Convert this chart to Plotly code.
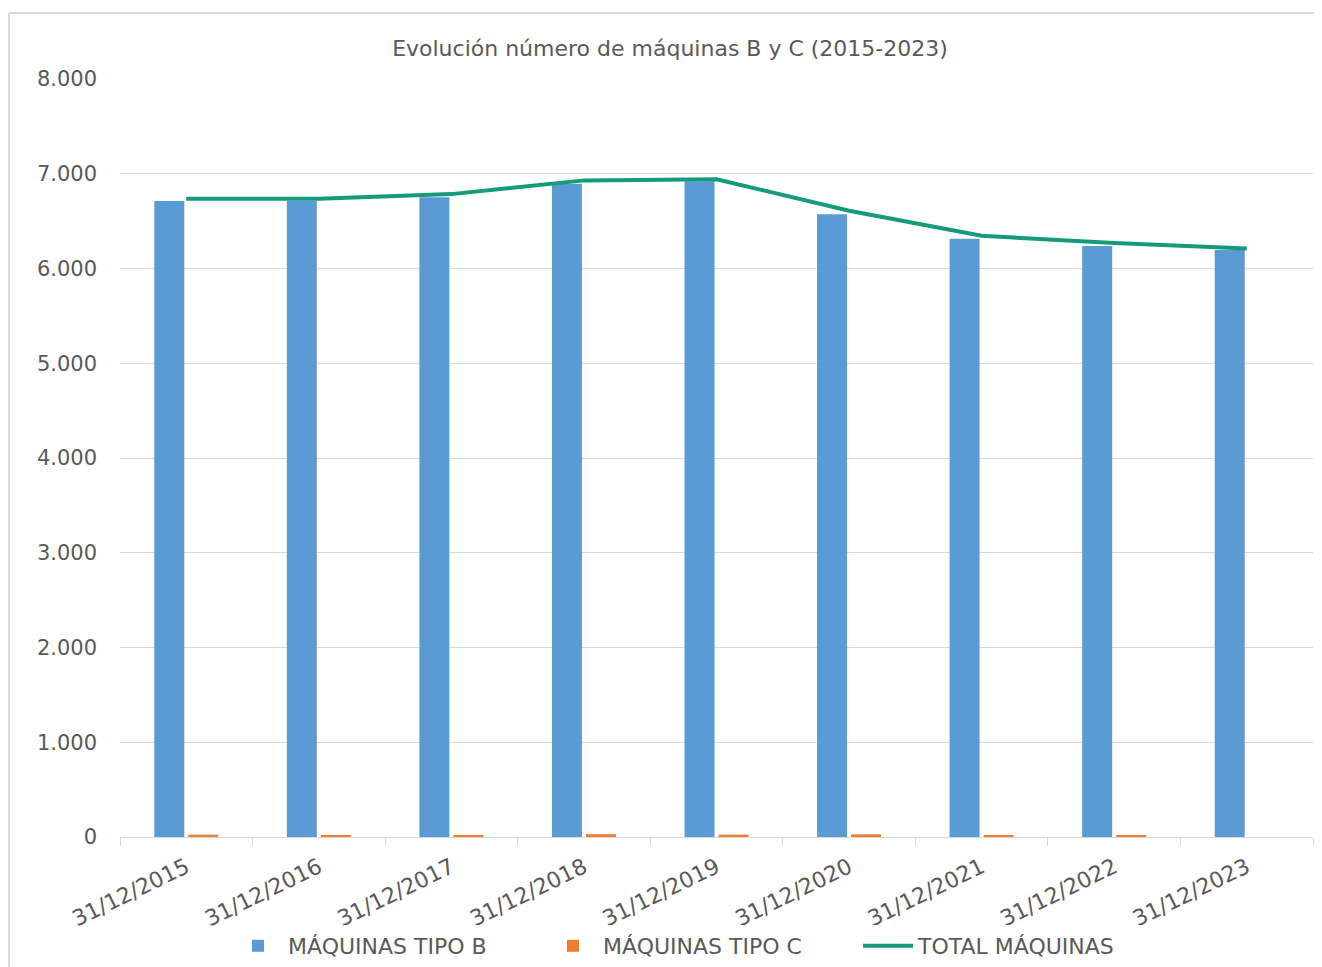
import plotly.graph_objects as go

categories = ["31/12/2015", "31/12/2016", "31/12/2017", "31/12/2018", "31/12/2019",
              "31/12/2020", "31/12/2021", "31/12/2022", "31/12/2023"]
tipo_b = [6712, 6714, 6752, 6895, 6920, 6572, 6315, 6238, 6195]
tipo_c = [25, 15, 14, 30, 25, 28, 20, 12, 0]
total = [6736, 6735, 6785, 6930, 6942, 6610, 6345, 6268, 6212]

title_text = "Evolución número de máquinas B y C (2015-2023)"
font_family = "DejaVu Sans, sans-serif"
text_color = "#595959"
grid_color = "#d9d9d9"

fig = go.Figure()
fig.add_trace(go.Bar(x=categories, y=tipo_b, name="MÁQUINAS TIPO B",
                     marker=dict(color="#5B9BD5", line=dict(width=0))))
fig.add_trace(go.Bar(x=categories, y=tipo_c, name="MÁQUINAS TIPO C",
                     marker=dict(color="#ED7D31", line=dict(width=0))))
fig.add_trace(go.Scatter(x=categories, y=total, name="TOTAL MÁQUINAS", mode="lines",
                         line=dict(color="#159A7B", width=4)))

# page offset of the default html body margin
OFF = 8
W, H = 1322 - OFF, 967 - OFF
PX0, PX1, PY0, PY1 = 120, 1313, 79, 837  # plot area on the page
L, R, T, B = PX0 - OFF, (OFF + W) - PX1, PY0 - OFF, (OFF + H) - PY1
pw, ph = PX1 - PX0, PY1 - PY0


def fx(px):
    return (px - PX0) / pw


def fy(py):
    return (PY1 - py) / ph


fig.update_layout(
    width=W, height=H,
    margin=dict(l=L, r=R, t=T, b=B, autoexpand=False),
    paper_bgcolor="white", plot_bgcolor="white",
    separators=",.",
    barmode="group", bargap=0.487, bargroupgap=0.118,
    font=dict(family=font_family, color=text_color, size=20),
    title=dict(text=title_text, x=fx(670), xref="paper", xanchor="center",
               y=1 - (48 - OFF) / H, yref="container", yanchor="middle",
               font=dict(family=font_family, size=22, color=text_color)),
    showlegend=True,
    legend=dict(orientation="h", x=fx(228), xanchor="left", y=fy(946), yanchor="middle",
                font=dict(family=font_family, size=22, color=text_color),
                itemwidth=50, entrywidth=250, entrywidthmode="pixels", traceorder="normal"),
    shapes=[
        dict(type="line", xref="paper", yref="paper", x0=fx(9), x1=fx(1330),
             y0=fy(13), y1=fy(13), line=dict(color=grid_color, width=2)),
        dict(type="line", xref="paper", yref="paper", x0=fx(9), x1=fx(9),
             y0=fy(13), y1=fy(980), line=dict(color=grid_color, width=2)),
    ],
)

fig.update_xaxes(
    type="category", tickangle=-26, tickson="boundaries", automargin=False,
    ticks="outside", ticklen=8, tickcolor=grid_color, ticklabelstandoff=8,
    showline=True, linecolor=grid_color, linewidth=1,
    showgrid=False, tickfont=dict(family=font_family, size=22, color=text_color),
)
fig.update_yaxes(
    range=[0, 8000], dtick=1000, tickformat=",d", automargin=False,
    showgrid=True, gridcolor=grid_color, gridwidth=1,
    zeroline=False, showline=False, ticks="", ticklabelstandoff=22,
    tickfont=dict(family=font_family, size=21, color=text_color),
)

fig.write_html("out.html")
